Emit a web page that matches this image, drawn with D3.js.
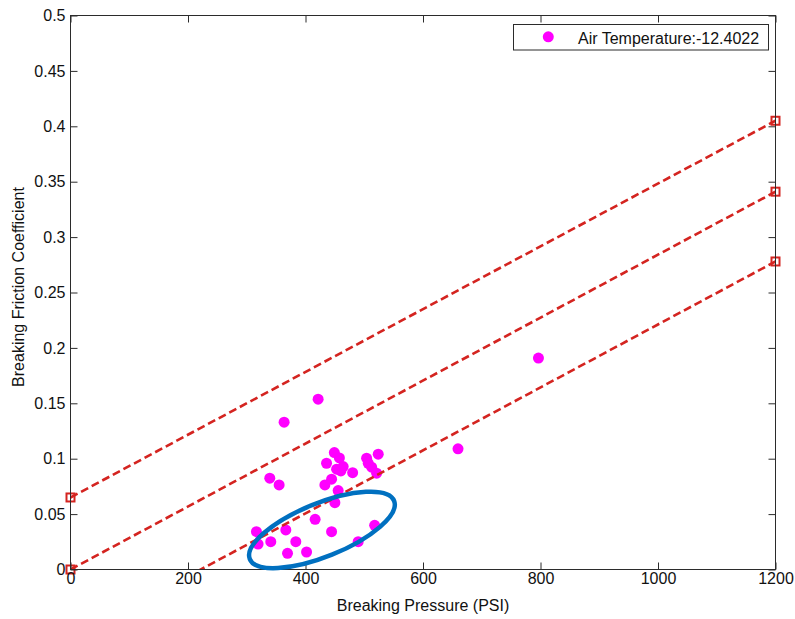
<!DOCTYPE html>
<html>
<head>
<meta charset="utf-8">
<script src="https://cdn.jsdelivr.net/npm/d3@7"></script>
<style>
  html, body { margin: 0; padding: 0; background: #fff; }
  svg { display: block; font-family: "Liberation Sans", Arial, sans-serif; }
</style>
</head>
<body>
<svg id="chart" width="795" height="619"></svg>
<script>
// Braking measurements (pressure in PSI, friction coefficient)
const pressure = [421.5, 363.6, 449.1, 457.7, 435.8, 452.9, 464.1, 460.2, 480.2, 504.0,
                  506.8, 523.8, 512.6, 521.1, 444.4, 433.0, 455.6, 450.0, 339.2, 355.1,
                  416.4, 444.4, 517.7, 489.7, 316.5, 319.3, 340.9, 366.5, 383.5, 369.4,
                  401.8, 796.5, 659.6];
const friction = [0.1537, 0.1330, 0.1055, 0.1007, 0.0959, 0.0905, 0.0929, 0.0890, 0.0874, 0.1005,
                  0.0959, 0.1041, 0.0923, 0.0869, 0.0815, 0.0763, 0.0712, 0.0603, 0.0824, 0.0763,
                  0.0453, 0.0341, 0.0399, 0.0251, 0.0341, 0.0230, 0.0251, 0.0357, 0.0251, 0.0146,
                  0.0158, 0.1908, 0.1089];

// Reference bands: value at the start and end pressure
const boundPressure = [0, 1200];
const upperBound  = [0.065, 0.405];
const middleBound = [0.000, 0.341];
const lowerBound  = [-0.063, 0.278];

// Highlighted group of low-friction points (centre in data units)
const highlightCenter = [428, 0.0357];

const xTicks = [0, 200, 400, 600, 800, 1000, 1200];
const xTickLabels = ["0", "200", "400", "600", "800", "1000", "1200"];
const yTicks = [0, 0.05, 0.1, 0.15, 0.2, 0.25, 0.3, 0.35, 0.4, 0.45, 0.5];
const yTickLabels = ["0", "0.05", "0.1", "0.15", "0.2", "0.25", "0.3", "0.35", "0.4", "0.45", "0.5"];

const legendLabel = "Air Temperature:-12.4022";
const xLabel = "Breaking Pressure (PSI)";
const yLabel = "Breaking Friction Coefficient";

const svg = d3.select("#chart");
const plotLeft = 70.5, plotRight = 775.5, plotTop = 15.5, plotBottom = 569.5;
const axisColor = "#2b2b2b";
const lineColor = "#d42420";
const dotColor = "#ff00ff";

const x = d3.scaleLinear().domain([0, 1200]).range([plotLeft, plotRight]);
const y = d3.scaleLinear().domain([0, 0.5]).range([plotBottom, plotTop]);

svg.append("rect").attr("width", 795).attr("height", 619).attr("fill", "#fff");

svg.append("defs").append("clipPath").attr("id", "plotClip")
  .append("rect")
  .attr("x", plotLeft).attr("y", plotTop)
  .attr("width", plotRight - plotLeft).attr("height", plotBottom - plotTop);

// Scatter points
const points = pressure.map((p, i) => ({ p, f: friction[i] }));
svg.append("g").selectAll("circle")
  .data(points)
  .join("circle")
  .attr("cx", d => x(d.p))
  .attr("cy", d => y(d.f))
  .attr("r", 5.5)
  .attr("fill", dotColor);

// Dashed reference lines with square end markers
const bounds = [upperBound, middleBound, lowerBound];
const lineGen = d3.line().x(d => x(d[0])).y(d => y(d[1]));
const boundGroup = svg.append("g");
bounds.forEach(b => {
  const pts = boundPressure.map((p, i) => [p, b[i]]);
  boundGroup.append("path")
    .attr("d", lineGen(pts))
    .attr("clip-path", "url(#plotClip)")
    .attr("fill", "none")
    .attr("stroke", lineColor)
    .attr("stroke-width", 2.6)
    .attr("stroke-dasharray", "8,4");
  pts.filter(d => d[1] >= 0 && d[1] <= 0.5).forEach(d => {
    boundGroup.append("rect")
      .attr("x", x(d[0]) - 4).attr("y", y(d[1]) - 4)
      .attr("width", 8).attr("height", 8)
      .attr("fill", "none")
      .attr("stroke", lineColor)
      .attr("stroke-width", 2);
  });
});

// Axes (ticks point inward, box on all four sides)
const xAxis = d3.axisBottom(x).tickValues(xTicks)
  .tickFormat((d, i) => xTickLabels[i])
  .tickSizeInner(-7).tickSizeOuter(0).tickPadding(3);
const yAxis = d3.axisLeft(y).tickValues(yTicks)
  .tickFormat((d, i) => yTickLabels[i])
  .tickSizeInner(-7).tickSizeOuter(0).tickPadding(5);
const xAxisTop = d3.axisTop(x).tickValues(xTicks).tickFormat("")
  .tickSizeInner(-7).tickSizeOuter(0);
const yAxisRight = d3.axisRight(y).tickValues(yTicks).tickFormat("")
  .tickSizeInner(-7).tickSizeOuter(0);

function styleAxis(g) {
  g.select(".domain").remove();
  g.selectAll("line").attr("stroke", axisColor);
  g.selectAll("text").attr("fill", "#111").style("font-size", "16px")
    .style("font-family", "'Liberation Sans', Arial, sans-serif");
}
svg.append("g").attr("transform", `translate(0,${plotBottom})`).call(xAxis).call(styleAxis);
svg.append("g").attr("transform", `translate(${plotLeft},0)`).call(yAxis).call(styleAxis);
svg.append("g").attr("transform", `translate(0,${plotTop})`).call(xAxisTop).call(styleAxis);
svg.append("g").attr("transform", `translate(${plotRight},0)`).call(yAxisRight).call(styleAxis);

svg.append("rect")
  .attr("x", plotLeft).attr("y", plotTop)
  .attr("width", plotRight - plotLeft).attr("height", plotBottom - plotTop)
  .attr("fill", "none").attr("stroke", axisColor).attr("stroke-width", 1);

// Axis titles
svg.append("text")
  .attr("x", (plotLeft + plotRight) / 2).attr("y", 611)
  .attr("text-anchor", "middle")
  .style("font-size", "16px").attr("fill", "#111")
  .text(xLabel);
svg.append("text")
  .attr("transform", `translate(24,287) rotate(-90)`)
  .attr("text-anchor", "middle")
  .style("font-size", "16px").attr("fill", "#111")
  .text(yLabel);

// Legend
const legend = svg.append("g");
legend.append("rect")
  .attr("x", 513.5).attr("y", 24.5).attr("width", 255).attr("height", 25.5)
  .attr("fill", "#fff").attr("stroke", axisColor).attr("stroke-width", 1);
legend.append("circle").attr("cx", 548.3).attr("cy", 36.8).attr("r", 5.5).attr("fill", dotColor);
legend.append("text").attr("x", 578).attr("y", 43.5)
  .style("font-size", "16px").attr("fill", "#111")
  .text(legendLabel);

// Ellipse marking the low-friction group
svg.append("ellipse")
  .attr("transform", `translate(${x(highlightCenter[0])},${y(highlightCenter[1])}) rotate(-22)`)
  .attr("rx", 77.8).attr("ry", 26.7)
  .attr("fill", "none")
  .attr("stroke", "#0070c0")
  .attr("stroke-width", 4.5);
</script>
</body>
</html>
